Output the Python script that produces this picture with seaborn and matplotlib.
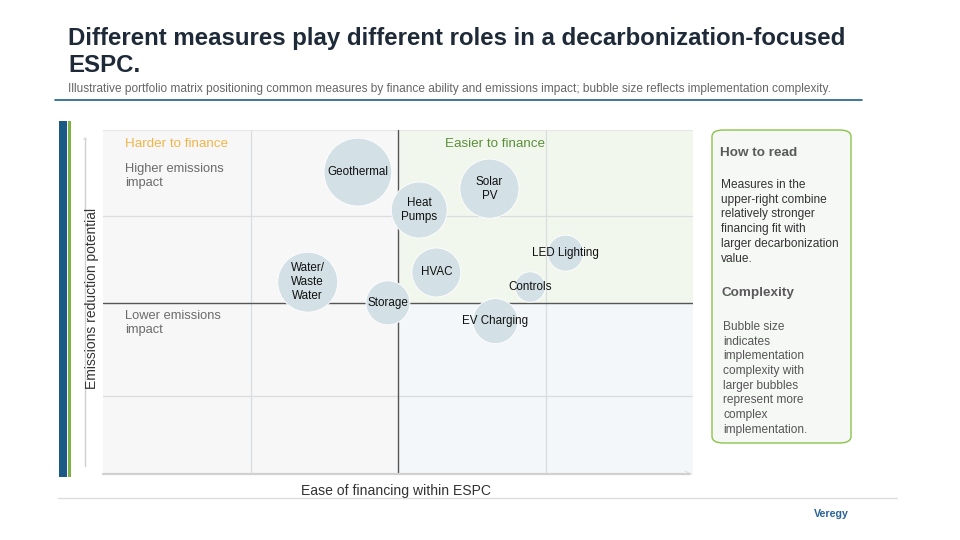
import matplotlib
matplotlib.use("Agg")
import matplotlib.pyplot as plt
from matplotlib.patches import FancyBboxPatch, Rectangle
import pandas as pd
import seaborn as sns

# ── data ─────────────────────────────────────
measures = ["Geothermal", "Heat\nPumps", "Solar\nPV", "LED Lighting", "HVAC",
            "Controls", "EV Charging", "Water/\nWaste\nWater", "Storage"]
finance_ease = [43.2, 53.6, 65.5, 78.4, 56.5, 72.4, 66.5, 34.7, 48.3]
emissions_impact = [87.8, 76.8, 83.0, 64.3, 58.7, 54.5, 44.6, 55.9, 49.9]
complexity = [10.0, 6.8, 7.6, 2.8, 5.2, 2.0, 4.4, 7.8, 4.2]

title_lines = ["Different measures play different roles in a decarbonization-focused",
               "ESPC."]
subtitle = ("Illustrative portfolio matrix positioning common measures by finance ability "
            "and emissions impact; bubble size reflects implementation complexity.")
howto_text = ("Measures in the\nupper-right combine\nrelatively stronger\n"
              "financing fit with\nlarger decarbonization\nvalue.")
complexity_text = ("Bubble size\nindicates\nimplementation\ncomplexity with\n"
                   "larger bubbles\nrepresent more\ncomplex\nimplementation.")

df = pd.DataFrame({"measure": measures, "x": finance_ease,
                   "y": emissions_impact, "complexity": complexity})

sns.set_theme(style="white")
plt.rcParams["font.family"] = ["Liberation Sans", "DejaVu Sans"]

fig = plt.figure(figsize=(9.6, 5.4), dpi=100)
ax = fig.add_axes([103 / 960, 65 / 540, 590 / 960, 345 / 540])
ax.set_xlim(0, 100)
ax.set_ylim(0, 100)

# quadrant backgrounds
ax.add_patch(Rectangle((0, 0), 50, 100, color="#f7f7f7", zorder=0, lw=0))
ax.add_patch(Rectangle((50, 50), 50, 50, color="#f2f7ee", zorder=0, lw=0))
ax.add_patch(Rectangle((50, 0), 50, 50, color="#f4f7f9", zorder=0, lw=0))

# light grid
for gx in (25, 75):
    ax.axvline(gx, color="#d9dde0", lw=0.9, zorder=1)
ax.axhline(75, color="#d9dde0", lw=0.9, zorder=1)
ax.axhline(23, color="#d9dde0", lw=0.9, zorder=1)
ax.axhline(100, color="#e6e6e6", lw=0.8, zorder=1)
ax.axvline(100, color="#e6e6e6", lw=0.8, zorder=1)
# midlines
ax.axvline(50, color="#555555", lw=1.0, zorder=1)
ax.axhline(50, color="#555555", lw=1.0, zorder=1)

sns.scatterplot(data=df, x="x", y="y", size="complexity",
                sizes=(477, 2385), size_norm=(2, 10),
                color="#d3e0e5", edgecolor="white", linewidth=0.6,
                alpha=1, legend=False, ax=ax, zorder=3)

for m, x, y in zip(measures, finance_ease, emissions_impact):
    ax.text(x, y, m, ha="center", va="center", fontsize=8.4, color="#111111",
            linespacing=1.2, zorder=4)

for s in ax.spines.values():
    s.set_visible(False)
ax.set_xticks([])
ax.set_yticks([])
ax.set_xlabel("")
ax.set_ylabel("")

# quadrant labels
ax.text(0.038, 0.96, "Harder to finance", transform=ax.transAxes, fontsize=9.6,
        color="#f0b54a", va="center")
ax.text(0.58, 0.96, "Easier to finance", transform=ax.transAxes, fontsize=9.6,
        color="#5a8f3a", va="center")
ax.text(0.038, 0.905, "Higher emissions\nimpact", transform=ax.transAxes,
        fontsize=9.3, color="#6b6b6b", va="top", linespacing=1.25)
ax.text(0.038, 0.478, "Lower emissions\nimpact", transform=ax.transAxes,
        fontsize=9.3, color="#6b6b6b", va="top", linespacing=1.25)

# figure-level decorations (pixel coords -> figure fraction)
def fx(px):
    return px / 960


def fy(py):
    return 1 - py / 540


fig.text(fx(68), fy(38), title_lines[0], fontsize=17.3, fontweight="bold",
         color="#1e2a38", va="center")
fig.text(fx(68), fy(66), title_lines[1], fontsize=17.3, fontweight="bold",
         color="#1e2a38", va="center")
fig.text(fx(68), fy(89), subtitle, fontsize=8.6, color="#666666", va="center")
fig.add_artist(plt.Line2D([fx(55), fx(862)], [fy(100), fy(100)], color="#1f5f8b", lw=1.2))

# left accent bars
fig.add_artist(Rectangle((fx(59), fy(477)), fx(8), 356 / 540, color="#1b5a84", lw=0))
fig.add_artist(Rectangle((fx(68), fy(477)), fx(2.5), 356 / 540, color="#7cb342", lw=0))

# axis arrows
fig.add_artist(plt.Line2D([fx(85), fx(85)], [fy(466), fy(138)], color="#d0d0d0", lw=1))
fig.text(fx(85), fy(140), "^", fontsize=6, color="#c8c8c8", ha="center", va="center")
fig.add_artist(plt.Line2D([fx(103), fx(690)], [fy(474), fy(474)], color="#d0d0d0", lw=1.6))
fig.text(fx(686), fy(473), ">", fontsize=6, color="#d0d0d0", ha="center", va="center")

fig.text(fx(92), fy(298), "Emissions reduction potential", rotation=90, fontsize=10,
         color="#333333", ha="center", va="center")
fig.text(fx(396), fy(491), "Ease of financing within ESPC", fontsize=10.1,
         color="#333333", ha="center", va="center")

# side panel
box = FancyBboxPatch((fx(712), fy(443)), fx(139), 313 / 540,
                     boxstyle="round,pad=0,rounding_size=0.012",
                     transform=fig.transFigure, facecolor="#f6f8f6",
                     edgecolor="#8bc34a", lw=1.0)
fig.add_artist(box)
fig.text(fx(720), fy(153), "How to read", fontsize=9.7, fontweight="bold",
         color="#5a5a5a", va="center")
fig.text(fx(721), fy(179), howto_text, fontsize=8.6, color="#333333", va="top",
         linespacing=1.3)
fig.text(fx(721), fy(293), "Complexity", fontsize=9.7, fontweight="bold",
         color="#5a5a5a", va="center")
fig.text(fx(723), fy(321), complexity_text, fontsize=8.6, color="#555555", va="top",
         linespacing=1.3)

# footer
fig.add_artist(plt.Line2D([fx(58), fx(897)], [fy(498), fy(498)], color="#dddddd", lw=1))
fig.text(fx(831), fy(514), "Veregy", fontsize=7.7, fontweight="bold", color="#2a6496",
         ha="center", va="center")

fig.savefig("out.png", dpi=100)
plt.close(fig)
